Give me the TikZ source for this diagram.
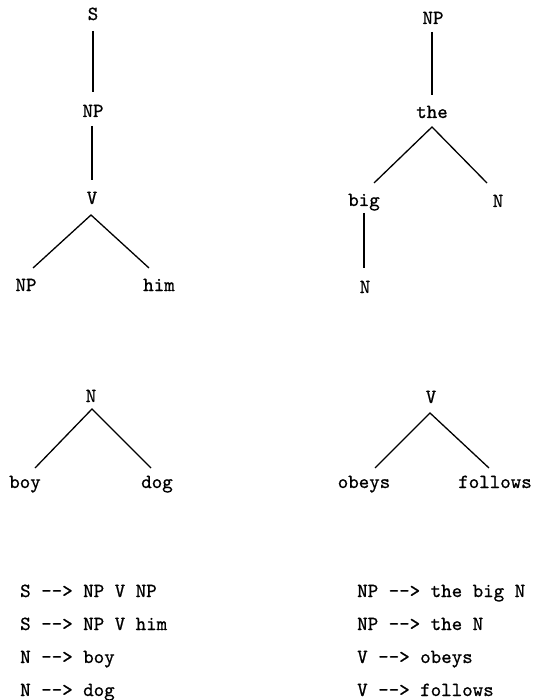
\documentclass[tikz,border=0pt]{standalone}
\usepackage{fontspec}
\newfontfamily\twfont{lmmono10-regular.otf}[FakeBold=0.8]
\begin{document}
\begin{tikzpicture}[x=1pt,y=-1pt,
  lbl/.style={inner sep=0pt,anchor=base,font=\twfont\fontsize{20}{24}\selectfont},
  rule/.style={inner sep=0pt,anchor=base west,font=\twfont\fontsize{20}{24}\selectfont},
  edge/.style={line width=1.3pt}]
\useasboundingbox (0,0) rectangle (535,700);
% Tree 1
\node[lbl] (s1) at (93,20) {S};
\node[lbl] (np1) at (93,117) {NP};
\node[lbl] (v1) at (92,204) {V};
\node[lbl] (np1l) at (26,291) {NP};
\node[lbl] (him1) at (159,291) {him};
\coordinate (s1b) at (93,31); \coordinate (np1t) at (93,92);
\coordinate (np1b) at (92,126); \coordinate (v1t) at (92,180);
\coordinate (v1a) at (91,215); \coordinate (np1lt) at (33,268); \coordinate (him1t) at (149,268);
\draw[edge] (s1b) -- (np1t);
\draw[edge] (np1b) -- (v1t);
\draw[edge] (np1lt) -- (v1a) -- (him1t);
% Tree 2
\node[lbl] (np2) at (433,24) {NP};
\node[lbl] (the2) at (432,118) {the};
\node[lbl] (big2) at (364,206) {big};
\node[lbl] (n2r) at (498,207) {N};
\node[lbl] (n2b) at (365,293) {N};
\coordinate (np2b) at (432,32); \coordinate (the2t) at (432,95);
\coordinate (the2a) at (432,127); \coordinate (big2t) at (374,183); \coordinate (n2rt) at (487,183);
\coordinate (big2b) at (364,213); \coordinate (n2bt) at (364,268);
\draw[edge] (np2b) -- (the2t);
\draw[edge] (big2t) -- (the2a) -- (n2rt);
\draw[edge] (big2b) -- (n2bt);
% Tree 3
\node[lbl] (n3) at (91,402) {N};
\node[lbl] (boy3) at (25,488) {boy};
\node[lbl] (dog3) at (157,488) {dog};
\coordinate (n3a) at (92,409); \coordinate (boy3t) at (35,468); \coordinate (dog3t) at (151,468);
\draw[edge] (boy3t) -- (n3a) -- (dog3t);
% Tree 4
\node[lbl] (v4) at (431,403) {V};
\node[lbl] (obeys4) at (364,488) {obeys};
\node[lbl] (follows4) at (495,488) {follows};
\coordinate (v4a) at (430,413); \coordinate (obeys4t) at (375,468); \coordinate (follows4t) at (489,468);
\draw[edge] (obeys4t) -- (v4a) -- (follows4t);
% Rules
\node[rule] (r1) at (20,597) {S --> NP V NP};
\node[rule] (r2) at (20,630) {S --> NP V him};
\node[rule] (r3) at (20,663) {N --> boy};
\node[rule] (r4) at (20,696) {N --> dog};
\node[rule] (r5) at (357,597) {NP --> the big N};
\node[rule] (r6) at (357,630) {NP --> the N};
\node[rule] (r7) at (357,663) {V --> obeys};
\node[rule] (r8) at (357,696) {V --> follows};
\end{tikzpicture}
\end{document}
